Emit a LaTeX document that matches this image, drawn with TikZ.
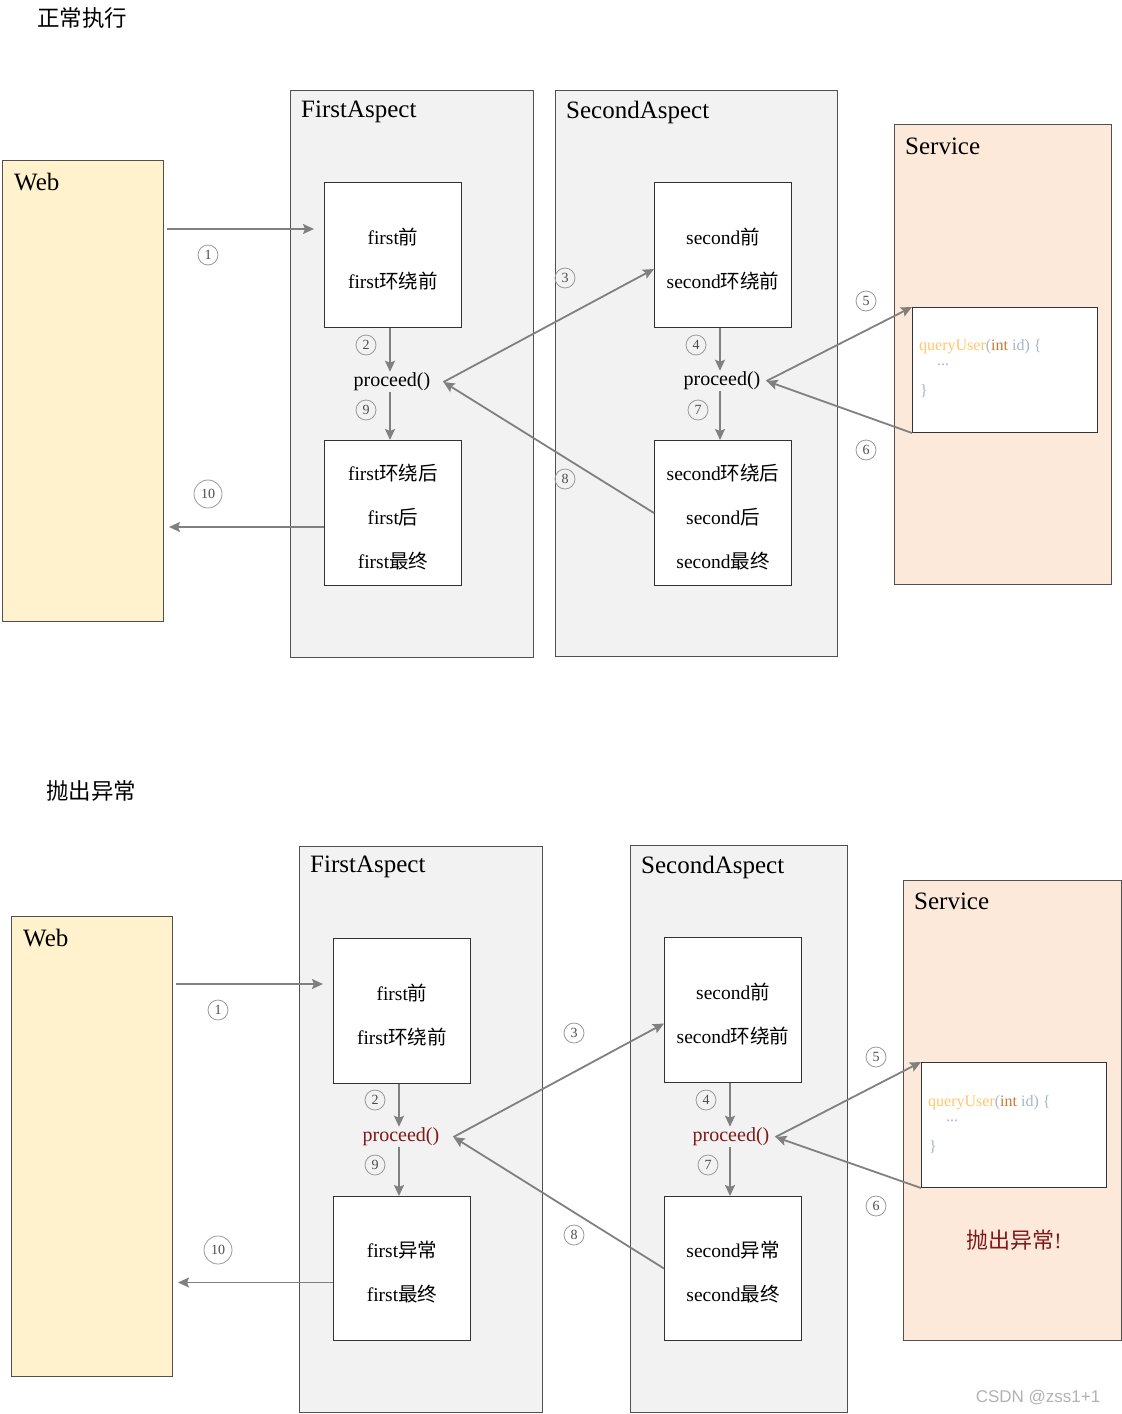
\documentclass[tikz,border=0pt]{standalone}
\usepackage{fontspec}
\setmainfont{Liberation Serif}
\setsansfont{Liberation Sans}
\newfontfamily\cjk{Noto Sans CJK SC}
\usetikzlibrary{arrows.meta,calc}
\definecolor{webfill}{HTML}{FFF2CC}
\definecolor{aspfill}{HTML}{F2F2F2}
\definecolor{svcfill}{HTML}{FCE9DA}
\definecolor{bordc}{HTML}{505050}
\definecolor{arrowc}{HTML}{808080}
\definecolor{procred}{HTML}{801818}
\definecolor{codeorange}{HTML}{FFC66D}
\definecolor{codekw}{HTML}{CC7832}
\definecolor{codegray}{HTML}{A9B7C6}
\newcommand{\zh}[1]{{\cjk #1}}
\tikzset{
 container/.style={draw=bordc, line width=1pt, inner sep=0pt, anchor=north west},
 webbox/.style={container, fill=webfill},
 aspbox/.style={container, fill=aspfill},
 svcbox/.style={container, fill=svcfill},
 stepbox/.style={draw=black!80, fill=white, line width=1pt, minimum width=137pt, minimum height=145pt, anchor=north west, inner sep=0pt},
 steptext/.style={align=center, font={\fontsize{19.5}{44}\selectfont}, inner sep=0pt},
 codebox/.style={draw=black!80, fill=white, line width=1pt, minimum width=185pt, minimum height=125pt, anchor=north west, inner sep=0pt},
 boxtitle/.style={anchor=west, font={\fontsize{25}{28}\selectfont}, inner sep=0pt},
 heading/.style={anchor=west, font={\cjk\fontsize{22.5}{24}\selectfont}, inner sep=0pt},
 proc/.style={font={\fontsize{20}{22}\selectfont}, inner sep=1pt},
 num/.style={circle, draw=gray!80, line width=0.8pt, minimum size=20pt, inner sep=0pt, font={\fontsize{14}{14}\selectfont}, text=black!70},
 bignum/.style={num, minimum size=28pt},
 arr/.style={draw=arrowc, line width=1.8pt, -{Stealth[length=11pt,width=10pt,inset=2pt]}},
 code/.style={anchor=west, inner sep=0pt, font={\fontsize{16}{18}\selectfont}},
}
\begin{document}
\begin{tikzpicture}[x=1pt,y=-1pt]
\useasboundingbox (0,0) rectangle (1122,1414);

% ================= Top diagram =================
\node[heading] (h1) at (37,18) {正常执行};

\node[webbox, minimum width=161pt, minimum height=461pt] (web1) at (2,160) {};
\node[boxtitle] (web1t) at (14,182) {Web};
\node[aspbox, minimum width=243pt, minimum height=567pt] (fa1) at (290,90) {};
\node[boxtitle] (fa1t) at (301,112) {FirstAspect};
\node[aspbox, minimum width=282pt, minimum height=566pt] (sa1) at (555,90) {};
\node[boxtitle] (sa1t) at (566,112) {SecondAspect};
\node[svcbox, minimum width=217pt, minimum height=460pt] (sv1) at (894,124) {};
\node[boxtitle] (sv1t) at (905,146) {Service};

\node[stepbox] (t1) at (324,182) {};
\node[steptext] (t1x) at ([yshift=-4pt]t1.center) {first\zh{前}\\first\zh{环绕前}};
\node[stepbox] (b1) at (324,440) {};
\node[steptext] (b1x) at ([yshift=-4pt]b1.center) {first\zh{环绕后}\\first\zh{后}\\first\zh{最终}};
\node[stepbox] (t2) at (654,182) {};
\node[steptext] (t2x) at ([yshift=-4pt]t2.center) {second\zh{前}\\second\zh{环绕前}};
\node[stepbox] (b2) at (654,440) {};
\node[steptext] (b2x) at ([yshift=-4pt]b2.center) {second\zh{环绕后}\\second\zh{后}\\second\zh{最终}};
\node[proc] (p1) at (392,382) {proceed()};
\node[proc] (p2) at (722,381) {proceed()};

\node[codebox] (q1) at (912,307) {};
\node[code] (q1a) at (919,347) {\textcolor{codeorange}{queryUser}\textcolor{codegray}{(}\textcolor{codekw}{int}~\textcolor{codegray}{id)~\{}};
\node[code] (q1b) at (937,365) {\textcolor{codegray}{...}};
\node[code] (q1c) at (920,391) {\textcolor{codegray}{\}}};

\coordinate (a1s) at (167,229);
\coordinate (a1e) at (314,229);
\coordinate (a10s) at ([yshift=-14pt]b1.west);
\coordinate (a10e) at ($(a10s -| web1.east)+(5,0)$);
\coordinate (v1) at ([xshift=-3pt]t1.south);
\coordinate (v2) at ([xshift=-3pt]t2.south);
\draw[arr] (a1s) -- (a1e);
\draw[arr] (v1) -- (v1 |- p1.north);
\draw[arr] (v1 |- p1.south) -- (v1 |- b1.north);
\draw[arr] ([xshift=12pt]p1.east) -- ([yshift=-14pt]t2.west);
\draw[arr] (v2) -- (v2 |- p2.north);
\draw[arr] (v2 |- p2.south) -- (v2 |- b2.north);
\draw[arr] ([xshift=5pt]p2.east) -- (q1.north west);
\draw[arr] (q1.south west) -- ([xshift=5pt]p2.east);
\draw[arr] (b2.west) -- ([xshift=12pt]p1.east);
\draw[arr] (a10s) -- (a10e);

\node[num] (n1a) at (208,255) {1};
\node[num] (n2a) at (366,345) {2};
\node[num] (n9a) at (366,410) {9};
\node[num] (n3a) at (565,278) {3};
\node[num] (n4a) at (696,345) {4};
\node[num] (n7a) at (698,410) {7};
\node[num] (n5a) at (866,301) {5};
\node[num] (n6a) at (866,450) {6};
\node[num] (n8a) at (565,479) {8};
\node[bignum] (n10a) at (208,494) {10};

% ================= Bottom diagram =================
\node[heading] (h2) at (46,791) {抛出异常};

\node[webbox, minimum width=161pt, minimum height=460pt] (web2) at (11,916) {};
\node[boxtitle] (web2t) at (23,938) {Web};
\node[aspbox, minimum width=243pt, minimum height=566pt] (fa2) at (299,846) {};
\node[boxtitle] (fa2t) at (310,867) {FirstAspect};
\node[aspbox, minimum width=217pt, minimum height=567pt] (sa2) at (630,845) {};
\node[boxtitle] (sa2t) at (641,867) {SecondAspect};
\node[svcbox, minimum width=218pt, minimum height=460pt] (sv2) at (903,880) {};
\node[boxtitle] (sv2t) at (914,901) {Service};

\node[stepbox] (t3) at (333,938) {};
\node[steptext] (t3x) at ([yshift=-4pt]t3.center) {first\zh{前}\\first\zh{环绕前}};
\node[stepbox, minimum height=144pt] (b3) at (333,1196) {};
\node[steptext] (b3x) at ([yshift=-4pt]b3.center) {first\zh{异常}\\first\zh{最终}};
\node[stepbox] (t4) at (664,937) {};
\node[steptext] (t4x) at ([yshift=-4pt]t4.center) {second\zh{前}\\second\zh{环绕前}};
\node[stepbox, minimum height=144pt] (b4) at (664,1196) {};
\node[steptext] (b4x) at ([yshift=-4pt]b4.center) {second\zh{异常}\\second\zh{最终}};
\node[proc, text=procred] (p3) at (401,1137) {proceed()};
\node[proc, text=procred] (p4) at (731,1137) {proceed()};

\node[codebox] (q2) at (921,1062) {};
\node[code] (q2a) at (928,1103) {\textcolor{codeorange}{queryUser}\textcolor{codegray}{(}\textcolor{codekw}{int}~\textcolor{codegray}{id)~\{}};
\node[code] (q2b) at (946,1121) {\textcolor{codegray}{...}};
\node[code] (q2c) at (929,1147) {\textcolor{codegray}{\}}};
\node[text=procred, font={\fontsize{22}{24}\selectfont}, inner sep=0pt] (exc) at (1014,1240) {\zh{抛出异常}!};

\coordinate (b1s) at (176,984);
\coordinate (b1e) at (323,984);
\coordinate (b10s) at ([yshift=-14pt]b3.west);
\coordinate (b10e) at ($(b10s -| web2.east)+(5,0)$);
\coordinate (v3) at ([xshift=-3pt]t3.south);
\coordinate (v4) at ([xshift=-3pt]t4.south);
\draw[arr] (b1s) -- (b1e);
\draw[arr] (v3) -- (v3 |- p3.north);
\draw[arr] (v3 |- p3.south) -- (v3 |- b3.north);
\draw[arr] ([xshift=13pt]p3.east) -- ([yshift=-13.5pt]t4.west);
\draw[arr] (v4) -- (v4 |- p4.north);
\draw[arr] (v4 |- p4.south) -- (v4 |- b4.north);
\draw[arr] ([xshift=5pt]p4.east) -- (q2.north west);
\draw[arr] (q2.south west) -- ([xshift=5pt]p4.east);
\draw[arr] (b4.west) -- ([xshift=13pt]p3.east);
\draw[arr] (b10s) -- (b10e);

\node[num] (n1b) at (218,1010) {1};
\node[num] (n2b) at (375,1100) {2};
\node[num] (n9b) at (375,1165) {9};
\node[num] (n3b) at (574,1033) {3};
\node[num] (n4b) at (706,1100) {4};
\node[num] (n7b) at (708,1165) {7};
\node[num] (n5b) at (876,1057) {5};
\node[num] (n6b) at (876,1206) {6};
\node[num] (n8b) at (574,1235) {8};
\node[bignum] (n10b) at (218,1250) {10};

\node[font={\sffamily\fontsize{17}{18}\selectfont}, text=gray!60, inner sep=0pt] (wm) at (1038,1397) {CSDN @zss1+1};
\end{tikzpicture}
\end{document}
